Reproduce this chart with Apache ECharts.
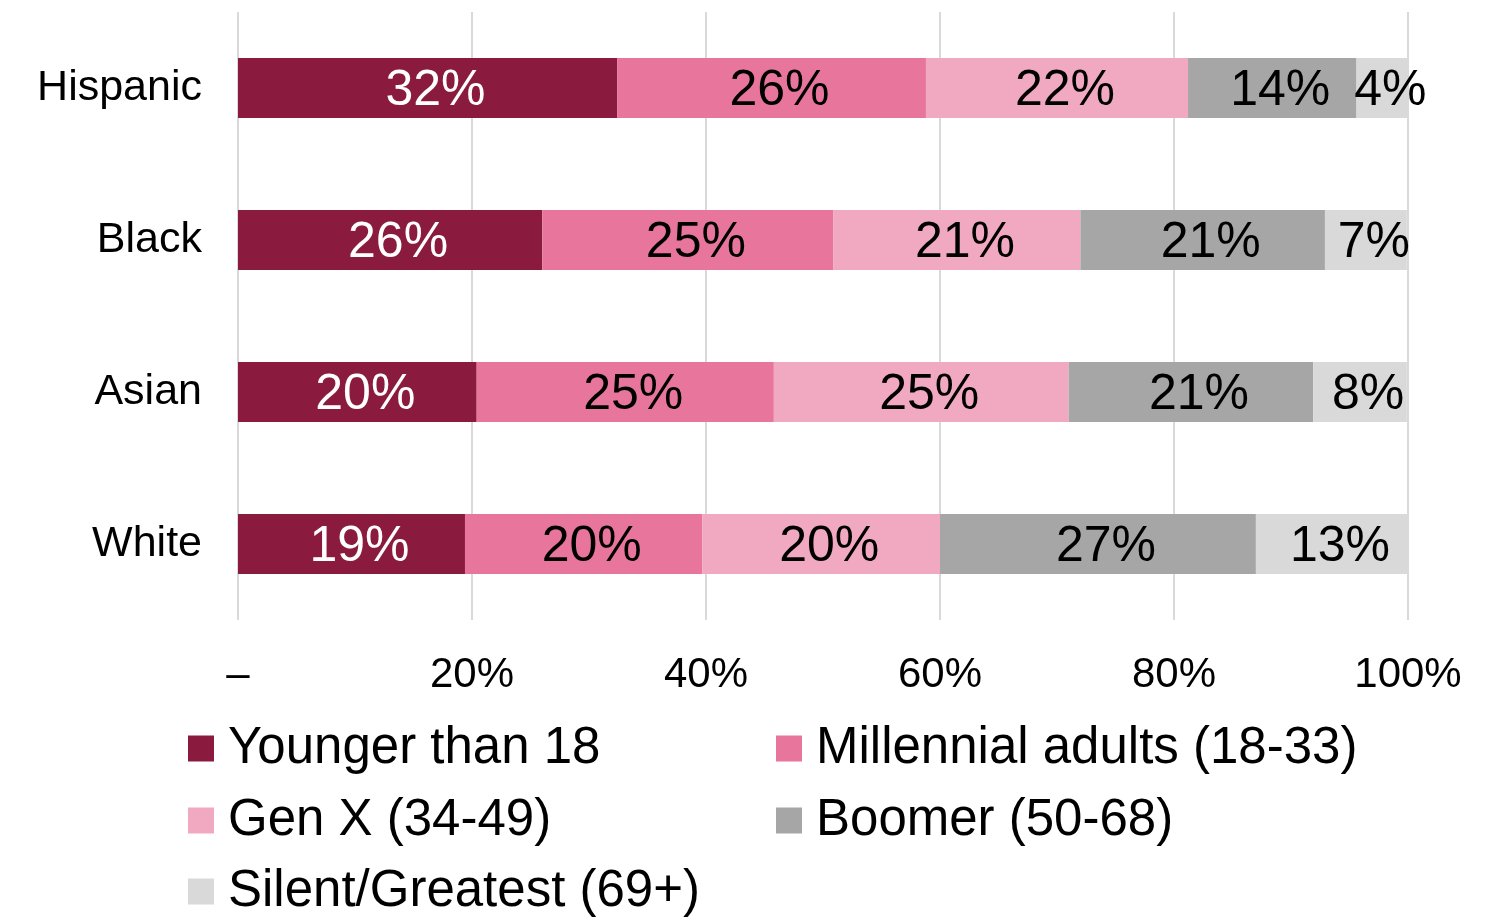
<!DOCTYPE html>
<html>
<head>
<meta charset="utf-8">
<script src="https://cdn.jsdelivr.net/npm/echarts@6/dist/echarts.min.js"></script>
<style>html,body{margin:0;padding:0;background:#fff}#chart{width:1512px;height:922px}</style>
</head>
<body>
<div id="chart"></div>
<script>
const categories = ['Hispanic', 'Black', 'Asian', 'White'];
const seriesNames = ['Younger than 18', 'Millennial adults (18-33)', 'Gen X (34-49)', 'Boomer (50-68)', 'Silent/Greatest (69+)'];
const younger = [32.4, 26.0, 20.4, 19.4];
const millennial = [26.4, 24.9, 25.4, 20.3];
const genX = [22.4, 21.1, 25.2, 20.3];
const boomer = [14.4, 20.9, 20.9, 27.0];
const silent = [4.4, 7.0, 8.0, 13.0];
const xTicks = [0, 20, 40, 60, 80, 100];

const values = [younger, millennial, genX, boomer, silent];
const colors = ['#8B1A3F', '#E8769C', '#F0A9C0', '#A6A6A6', '#D9D9D9'];
const labelColors = ['#ffffff', '#000000', '#000000', '#000000', '#000000'];
const FONT = '"Liberation Sans", Arial, sans-serif';

const chart = echarts.init(document.getElementById('chart'), null, {renderer: 'canvas'});

const legendPos = [
  {left: 188, top: 721},
  {left: 776, top: 721},
  {left: 188, top: 793},
  {left: 776, top: 793},
  {left: 188, top: 864}
];

const option = {
  backgroundColor: '#ffffff',
  animation: false,
  grid: {left: 238, right: 104, top: 12, bottom: 302, containLabel: false},
  xAxis: {
    type: 'value',
    min: 0,
    max: 100,
    interval: 20,
    axisLine: {show: false},
    axisTick: {show: false},
    splitLine: {show: true, lineStyle: {color: '#D9D9D9', width: 2}},
    axisLabel: {
      margin: 34,
      fontSize: 42,
      fontFamily: FONT,
      color: '#000',
      formatter: function (v) { return v === xTicks[0] ? '–' : v + '%'; }
    }
  },
  yAxis: {
    type: 'category',
    data: categories,
    inverse: true,
    axisLine: {show: false},
    axisTick: {show: false},
    axisLabel: {margin: 36, fontSize: 43, fontFamily: FONT, color: '#000'}
  },
  legend: seriesNames.map((n, i) => ({
    data: [n],
    left: legendPos[i].left,
    top: legendPos[i].top,
    padding: 0,
    orient: 'horizontal',
    icon: 'rect',
    itemWidth: 26,
    itemHeight: 26,
    selectedMode: false,
    textStyle: {fontSize: 51, fontFamily: FONT, color: '#000', padding: [5, 0, 0, 9], lineHeight: 50}
  })),
  series: seriesNames.map((n, i) => ({
    name: n,
    type: 'bar',
    stack: 'total',
    barWidth: 60,
    data: values[i],
    itemStyle: {color: colors[i]},
    label: {
      show: true,
      position: 'inside',
      offset: [8, 3],
      fontSize: 50,
      fontFamily: FONT,
      color: labelColors[i],
      formatter: function (p) { return Math.round(p.value) + '%'; }
    },
    emphasis: {disabled: true}
  }))
};
chart.setOption(option);
</script>
</body>
</html>
